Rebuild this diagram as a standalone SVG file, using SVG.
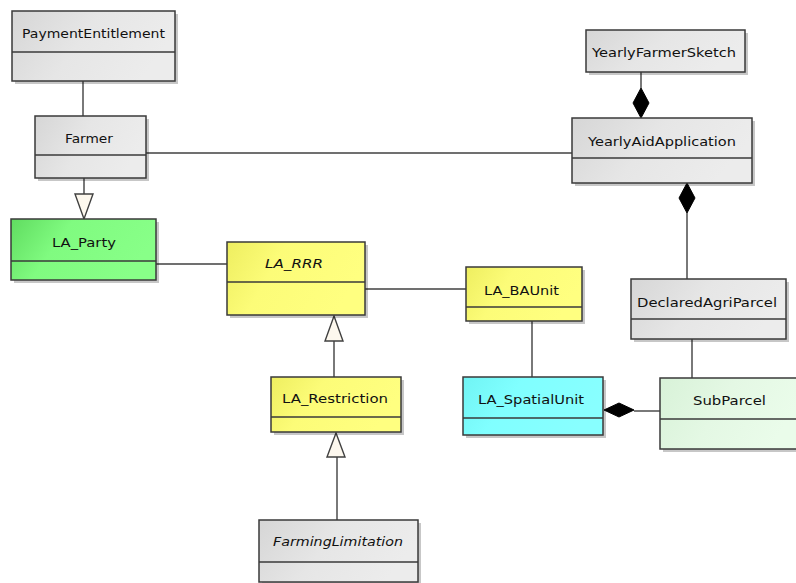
<svg xmlns="http://www.w3.org/2000/svg" width="796" height="583" viewBox="0 0 796 583">
<defs>
<linearGradient id="gGray" x1="0" y1="0" x2="1" y2="0.3"><stop offset="0" stop-color="#d6d6d6"/><stop offset="0.5" stop-color="#e6e6e6"/><stop offset="1" stop-color="#ececec"/></linearGradient>
<linearGradient id="gGreen" x1="0" y1="0" x2="1" y2="0.3"><stop offset="0" stop-color="#60dc60"/><stop offset="0.4" stop-color="#80fb80"/><stop offset="1" stop-color="#88ff88"/></linearGradient>
<linearGradient id="gYellow" x1="0" y1="0" x2="1" y2="0.3"><stop offset="0" stop-color="#eeee60"/><stop offset="0.4" stop-color="#fcfc78"/><stop offset="1" stop-color="#ffff80"/></linearGradient>
<linearGradient id="gCyan" x1="0" y1="0" x2="1" y2="0.3"><stop offset="0" stop-color="#70f4f4"/><stop offset="0.4" stop-color="#80ffff"/><stop offset="1" stop-color="#88ffff"/></linearGradient>
<linearGradient id="gPale" x1="0" y1="0" x2="1" y2="0.3"><stop offset="0" stop-color="#d8f2d8"/><stop offset="0.5" stop-color="#e4f8e4"/><stop offset="1" stop-color="#eafcea"/></linearGradient>
<style>
.box{stroke:#3a3a3a;stroke-width:1.5}
.sh{fill:#000;opacity:0.22}
.div{stroke:#3a3a3a;stroke-width:1.5}
.lbl{font-family:"DejaVu Sans",Verdana,sans-serif;font-size:12.5px;fill:#111;text-anchor:middle}
.it{font-style:italic}
.ln{stroke:#404040;stroke-width:1.4;fill:none}
.gen{fill:#fdf8ee;stroke:#404040;stroke-width:1.4}
.dia{fill:#000;stroke:#000;stroke-width:1}
</style>
</defs>
<rect width="796" height="583" fill="#ffffff"/>

<g id="connectors">
<line class="ln" x1="83" y1="81" x2="83" y2="116"/>
<line class="ln" x1="146" y1="153" x2="572" y2="153"/>
<line class="ln" x1="84" y1="178" x2="84" y2="194"/>
<polygon class="gen" points="75,194 93,194 84,219"/>
<line class="ln" x1="156" y1="264" x2="227" y2="264"/>
<line class="ln" x1="365" y1="289" x2="466" y2="289"/>
<line class="ln" x1="334" y1="341" x2="334" y2="377"/>
<polygon class="gen" points="334,316 343,341 325,341"/>
<line class="ln" x1="337" y1="457" x2="337" y2="520"/>
<polygon class="gen" points="336,433 345,457 327,457"/>
<line class="ln" x1="641" y1="72" x2="641" y2="88"/>
<polygon class="dia" points="641,88 649,103 641,118 633,103"/>
<line class="ln" x1="687" y1="213" x2="687" y2="279"/>
<polygon class="dia" points="687,183 695,198 687,213 679,198"/>
<line class="ln" x1="532" y1="321" x2="532" y2="377"/>
<line class="ln" x1="692" y1="339" x2="692" y2="378"/>
<line class="ln" x1="634" y1="411" x2="660" y2="411"/>
<polygon class="dia" points="604,410 619,403 634,410 619,417"/>
</g>

<g id="PaymentEntitlement">
<rect class="sh" x="15" y="14" width="163" height="70"/>
<rect class="box" x="12" y="11" width="163" height="70" fill="url(#gGray)"/>
<line class="div" x1="12" y1="52" x2="175" y2="52"/>
<text class="lbl" x="93.5" y="38" textLength="143" lengthAdjust="spacingAndGlyphs">PaymentEntitlement</text>
</g>

<g id="Farmer">
<rect class="sh" x="38" y="119" width="111" height="62"/>
<rect class="box" x="35" y="116" width="111" height="62" fill="url(#gGray)"/>
<line class="div" x1="35" y1="155" x2="146" y2="155"/>
<text class="lbl" x="89" y="143" textLength="48" lengthAdjust="spacingAndGlyphs">Farmer</text>
</g>

<g id="YearlyFarmerSketch">
<rect class="sh" x="589" y="33" width="159" height="42"/>
<rect class="box" x="586" y="30" width="159" height="42" fill="url(#gGray)"/>
<text class="lbl" x="664" y="57" textLength="144" lengthAdjust="spacingAndGlyphs">YearlyFarmerSketch</text>
</g>

<g id="YearlyAidApplication">
<rect class="sh" x="575" y="121" width="180" height="65"/>
<rect class="box" x="572" y="118" width="180" height="65" fill="url(#gGray)"/>
<line class="div" x1="572" y1="158" x2="752" y2="158"/>
<text class="lbl" x="662" y="146" textLength="148" lengthAdjust="spacingAndGlyphs">YearlyAidApplication</text>
</g>

<g id="LA_Party">
<rect class="sh" x="14" y="222" width="145" height="61"/>
<rect class="box" x="11" y="219" width="145" height="61" fill="url(#gGreen)"/>
<line class="div" x1="11" y1="261" x2="156" y2="261"/>
<text class="lbl" x="84" y="247" textLength="64" lengthAdjust="spacingAndGlyphs">LA_Party</text>
</g>

<g id="LA_RRR">
<rect class="sh" x="230" y="245" width="138" height="73"/>
<rect class="box" x="227" y="242" width="138" height="73" fill="url(#gYellow)"/>
<line class="div" x1="227" y1="282" x2="365" y2="282"/>
<text class="lbl it" x="294" y="268" textLength="58" lengthAdjust="spacingAndGlyphs">LA_RRR</text>
</g>

<g id="LA_BAUnit">
<rect class="sh" x="469" y="270" width="116" height="54"/>
<rect class="box" x="466" y="267" width="116" height="54" fill="url(#gYellow)"/>
<line class="div" x1="466" y1="307" x2="582" y2="307"/>
<text class="lbl" x="521.5" y="295" textLength="75" lengthAdjust="spacingAndGlyphs">LA_BAUnit</text>
</g>

<g id="DeclaredAgriParcel">
<rect class="sh" x="634" y="282" width="155" height="60"/>
<rect class="box" x="631" y="279" width="155" height="60" fill="url(#gGray)"/>
<line class="div" x1="631" y1="319" x2="786" y2="319"/>
<text class="lbl" x="707" y="307" textLength="140" lengthAdjust="spacingAndGlyphs">DeclaredAgriParcel</text>
</g>

<g id="LA_SpatialUnit">
<rect class="sh" x="466" y="380" width="140" height="58"/>
<rect class="box" x="463" y="377" width="140" height="58" fill="url(#gCyan)"/>
<line class="div" x1="463" y1="418" x2="603" y2="418"/>
<text class="lbl" x="531" y="404" textLength="106" lengthAdjust="spacingAndGlyphs">LA_SpatialUnit</text>
</g>

<g id="SubParcel">
<rect class="sh" x="663" y="381" width="140" height="71"/>
<rect class="box" x="660" y="378" width="140" height="71" fill="url(#gPale)"/>
<line class="div" x1="660" y1="419" x2="800" y2="419"/>
<text class="lbl" x="729.5" y="405" textLength="73" lengthAdjust="spacingAndGlyphs">SubParcel</text>
</g>

<g id="LA_Restriction">
<rect class="sh" x="274" y="380" width="130" height="55"/>
<rect class="box" x="271" y="377" width="130" height="55" fill="url(#gYellow)"/>
<line class="div" x1="271" y1="417" x2="401" y2="417"/>
<text class="lbl" x="335" y="403" textLength="106" lengthAdjust="spacingAndGlyphs">LA_Restriction</text>
</g>

<g id="FarmingLimitation">
<rect class="sh" x="262" y="523" width="159" height="62"/>
<rect class="box" x="259" y="520" width="159" height="62" fill="url(#gGray)"/>
<line class="div" x1="259" y1="562" x2="418" y2="562"/>
<text class="lbl it" x="338" y="546" textLength="130" lengthAdjust="spacingAndGlyphs">FarmingLimitation</text>
</g>
</svg>
